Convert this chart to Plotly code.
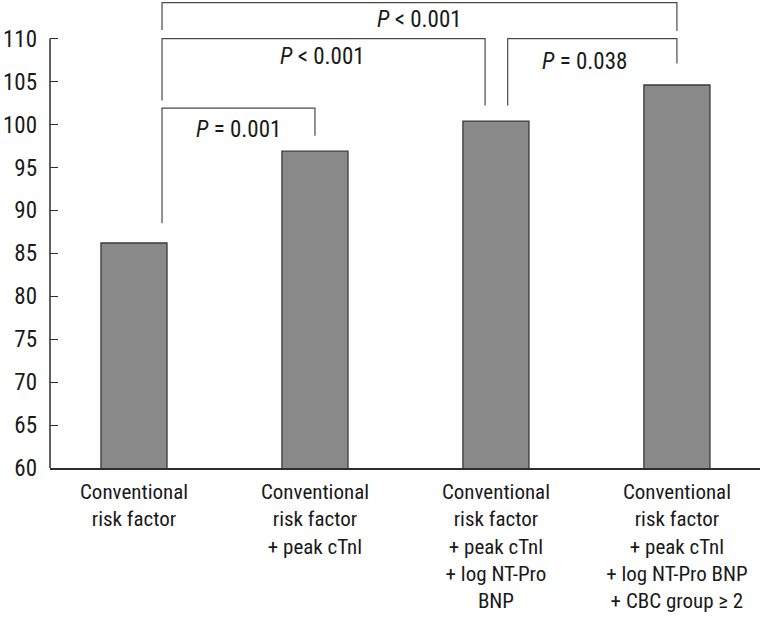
import plotly.graph_objects as go

# ---- data ----
categories = [
    "Conventional<br>risk factor",
    "Conventional<br>risk factor<br>+ peak cTnl",
    "Conventional<br>risk factor<br>+ peak cTnl<br>+ log NT-Pro<br>BNP",
    "Conventional<br>risk factor<br>+ peak cTnl<br>+ log NT-Pro BNP<br>+ CBC group ≥ 2",
]
values = [86.2, 96.9, 100.4, 104.6]
y_ticks = [60, 65, 70, 75, 80, 85, 90, 95, 100, 105, 110]

# comparisons: (left bar index, right bar index, label)
cmp_left = [0, 0, 0, 2]
cmp_right = [1, 2, 3, 3]
p_labels = ["<i>P</i> = 0.001", "<i>P</i> < 0.001", "<i>P</i> < 0.001", "<i>P</i> = 0.038"]

# ---- bracket geometry (layout only) ----
leg_off_left = [0.155, 0.155, 0.155, 0.065]
leg_off_right = [0.0, -0.06, 0.0, 0.0]
y_left_bottom = [88.5, 102.8, 111.0, 102.2]
y_top = [101.9, 110.0, 114.2, 110.0]
y_right_bottom = [98.7, 102.2, 110.9, 107.1]
label_x = [0.575, 1.04, 1.575, 2.49]
label_y = [99.4, 107.9, 112.2, 107.3]

FONT = "Roboto Condensed, DejaVu Sans Condensed, sans-serif"
AXC = "#2e2e2e"

fig = go.Figure(
    go.Bar(
        x=list(range(len(categories))),
        y=values,
        width=0.365,
        marker=dict(color="#898989", line=dict(color="#3a3a3a", width=1.3)),
        hoverinfo="skip",
    )
)

shapes = []
shapes.append(dict(type="line", xref="paper", yref="y", x0=0, x1=0, y0=y_ticks[0], y1=y_ticks[-1],
                   line=dict(color=AXC, width=1.5)))
line_style = dict(color="#4a4a4a", width=1.2)
for i in range(len(cmp_left)):
    xl = cmp_left[i] + leg_off_left[i]
    xr = cmp_right[i] + leg_off_right[i]
    shapes.append(dict(type="path", xref="x", yref="y",
                       path=f"M {xl} {y_left_bottom[i]} L {xl} {y_top[i]} L {xr} {y_top[i]} L {xr} {y_right_bottom[i]}",
                       line=line_style))

annotations = []
for i in range(len(p_labels)):
    annotations.append(dict(x=label_x[i], y=label_y[i], xref="x", yref="y", text=p_labels[i],
                            showarrow=False, font=dict(family=FONT, size=23, color="#1a1a1a")))

fig.update_layout(
    width=764, height=627,
    margin=dict(l=50, r=4, t=0, b=159),
    paper_bgcolor="white", plot_bgcolor="white",
    showlegend=False,
    shapes=shapes, annotations=annotations,
    font=dict(family=FONT, size=22, color="#1a1a1a"),
)
fig.update_xaxes(
    tickmode="array", tickvals=list(range(len(categories))), ticktext=categories,
    range=[-0.464, 3.459], showline=True, linecolor=AXC, linewidth=1.5,
    ticks="", showgrid=False, zeroline=False, tickfont=dict(family=FONT, size=21),
    ticklabelstandoff=4,
)
fig.update_yaxes(
    range=[60, 114.5], tickmode="array", tickvals=y_ticks, showline=False,
    ticks="inside", ticklen=8, tickcolor=AXC, tickwidth=1.3,
    showgrid=False, zeroline=False, tickfont=dict(family=FONT, size=23),
    ticklabelstandoff=12,
)

fig.write_html("out.html", config={"displayModeBar": False},
               post_script="document.body.style.margin='0';")
